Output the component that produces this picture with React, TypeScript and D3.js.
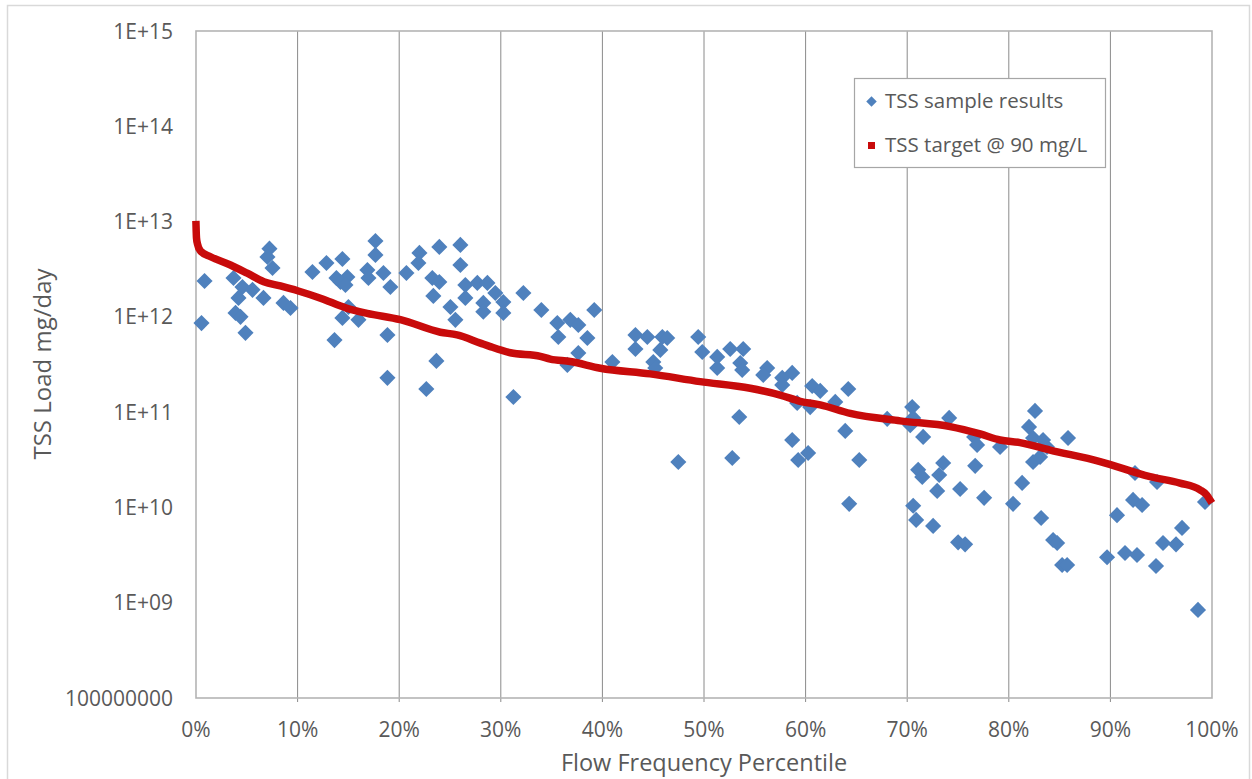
import React, { useEffect, useRef } from "react";
import * as d3 from "d3";

const W = 1252;
const H = 779;

// ---- data ----
const samplePercentile = [
  0.54, 0.84, 3.69, 4.57, 4.18, 5.56, 6.64, 3.89, 4.38, 4.87, 7.23, 7.03, 7.53, 8.61, 9.3,
  11.46, 12.84, 14.41, 17.66, 17.66, 13.82, 14.9, 14.22, 14.71, 16.87, 16.97, 18.45, 19.13, 20.71,
  14.41, 15.99, 15.0, 13.63, 18.84, 18.84,
  21.99, 21.89, 23.95, 23.26, 23.95, 23.36, 25.04, 25.53, 26.02, 26.02, 26.51, 27.69, 28.68, 26.51,
  28.28, 28.28, 29.46, 30.25, 30.25, 32.22, 33.99, 35.56, 36.84, 37.63, 35.66, 38.52, 39.2, 37.63,
  36.55, 23.66, 22.67, 31.24,
  40.98, 43.25, 43.25, 44.42, 45.9, 46.38, 45.7, 45.01, 45.2, 49.43, 49.83, 51.3, 51.3, 52.58,
  53.86, 53.57, 53.76, 56.22, 55.83, 57.7, 58.68, 57.7, 59.17, 60.65, 60.45, 53.47, 58.68, 59.27,
  60.25, 47.47, 52.78,
  61.44, 64.2, 62.92, 63.9, 65.28, 64.29, 68.03, 70.49, 70.3, 70.59, 71.57, 74.13, 76.59, 76.88,
  79.14, 76.69, 71.08, 71.48, 73.54, 73.15, 72.95, 75.21, 77.57, 70.59, 70.88, 72.55, 75.01, 75.7,
  80.42, 81.31,
  81.99, 82.58, 82.39, 83.37, 83.76, 82.39, 83.08, 85.83, 83.18, 84.36, 84.76, 85.25, 85.74, 89.67,
  90.65, 91.44, 92.62, 92.23, 93.12, 92.42, 94.59, 94.49, 95.18, 96.46, 97.05, 98.62, 99.31,
];
const sampleLoad = [
  8.6e11, 2.38e12, 2.56e12, 2.06e12, 1.58e12, 1.92e12, 1.58e12, 1.1e12, 1.0e12, 6.8e11, 5.2e12, 4.25e12, 3.26e12, 1.4e12, 1.24e12,
  2.96e12, 3.68e12, 4.05e12, 6.26e12, 4.47e12, 2.56e12, 2.62e12, 2.32e12, 2.16e12, 3.1e12, 2.56e12, 2.89e12, 2.06e12, 2.89e12,
  9.75e11, 9.3e11, 1.27e12, 5.7e11, 6.46e11, 2.29e11,
  4.69e12, 3.68e12, 5.42e12, 2.56e12, 2.32e12, 1.66e12, 1.27e12, 9.3e11, 5.69e12, 3.5e12, 2.16e12, 2.27e12, 2.27e12, 1.58e12,
  1.4e12, 1.13e12, 1.78e12, 1.43e12, 1.1e12, 1.78e12, 1.18e12, 8.63e11, 9.3e11, 8.22e11, 6.15e11, 6.0e11, 1.18e12, 4.18e11,
  3.13e11, 3.45e11, 1.75e11, 1.44e11,
  3.36e11, 6.46e11, 4.6e11, 6.15e11, 6.15e11, 6.0e11, 4.5e11, 3.36e11, 2.91e11, 6.15e11, 4.28e11, 3.8e11, 2.91e11, 4.6e11,
  4.6e11, 3.28e11, 2.77e11, 2.91e11, 2.46e11, 2.29e11, 2.58e11, 1.93e11, 1.25e11, 1.88e11, 1.13e11, 8.9e10, 5.1e10, 3.15e10,
  3.73e10, 3.0e10, 3.3e10,
  1.67e11, 1.75e11, 1.28e11, 6.35e10, 3.15e10, 1.09e10, 8.5e10, 1.13e11, 7.3e10, 8.7e10, 5.5e10, 8.7e10, 5.5e10, 4.53e10,
  4.31e10, 2.73e10, 2.48e10, 2.09e10, 2.93e10, 2.19e10, 1.49e10, 1.56e10, 1.26e10, 1.04e10, 7.4e9, 6.4e9, 4.3e9, 4.1e9,
  1.09e10, 1.81e10,
  7.0e10, 1.03e11, 5.36e10, 5.1e10, 4.31e10, 3.0e10, 3.39e10, 5.36e10, 7.74e9, 4.55e9, 4.23e9, 2.49e9, 2.49e9, 3.0e9,
  8.3e9, 3.32e9, 3.17e9, 1.2e10, 1.06e10, 2.3e10, 1.85e10, 2.43e9, 4.23e9, 4.1e9, 6.1e9, 8.4e8, 1.14e10,
];

const targetPercentile = [
  0, 0.05, 0.15, 0.44, 1.43, 3.39, 5.04, 6.67, 8.31, 10.0, 12.25, 14.87, 16.84, 20.12, 24.05, 25.7,
  27.99, 28.97, 30.94, 33.89, 34.87, 36.84, 39.8, 44.7, 49.63, 54.55, 57.5, 59.47, 61.44, 64.39,
  69.31, 74.23, 77.18, 79.14, 81.1, 84.06, 88.98, 93.9, 96.85, 98.82, 99.48, 99.8,
];
const targetLoad = [
  9.3e12, 6.7e12, 5.8e12, 4.9e12, 4.27e12, 3.5e12, 2.87e12, 2.34e12, 2.11e12, 1.88e12, 1.57e12, 1.23e12, 1.09e12, 9.35e11, 6.9e11, 6.46e11,
  5.3e11, 4.87e11, 4.2e11, 3.85e11, 3.6e11, 3.4e11, 2.89e11, 2.52e11, 2.09e11, 1.78e11, 1.51e11, 1.3e11, 1.19e11, 9.7e10,
  8.1e10, 7.05e10, 5.9e10, 5.1e10, 4.79e10, 4.0e10, 3.03e10, 2.1e10, 1.8e10, 1.53e10, 1.35e10, 1.2e10,
];

const xTicks = [0, 10, 20, 30, 40, 50, 60, 70, 80, 90, 100];
const yTicks = [1e15, 1e14, 1e13, 1e12, 1e11, 1e10, 1e9, 1e8];
const yTickLabels = ["1E+15", "1E+14", "1E+13", "1E+12", "1E+11", "1E+10", "1E+09", "100000000"];
const seriesNames = ["TSS sample results", "TSS target @ 90 mg/L"];

const FONT = "'Open Sans', sans-serif";
const TEXT = "#595959";
const BLUE = "#4F81BD";
const RED = "#C80B0B";

export default function App() {
  const ref = useRef<SVGSVGElement>(null);

  useEffect(() => {
    const svg = d3.select(ref.current);
    svg.selectAll("*").remove();

    const left = 196, right = 1212, top = 31, bottom = 698;
    const x = d3.scaleLinear().domain([0, 100]).range([left, right]);
    const y = d3.scaleLog().domain([1e8, 1e15]).range([bottom, top]);

    svg.append("rect").attr("width", W).attr("height", H).attr("fill", "#fff");
    svg.append("rect").attr("x", 7.5).attr("y", 5.5).attr("width", W - 10).attr("height", H).attr("fill", "none")
      .attr("stroke", "#d9d9d9").attr("stroke-width", 1.5);

    // gridlines
    svg.append("g").selectAll("line").data(xTicks.filter(t => t > 0 && t < 100)).join("line")
      .attr("x1", d => x(d)).attr("x2", d => x(d)).attr("y1", top).attr("y2", bottom + 4)
      .attr("stroke", "#8a8a8a").attr("stroke-width", 1);

    // plot border
    svg.append("rect").attr("x", left).attr("y", top).attr("width", right - left).attr("height", bottom - top)
      .attr("fill", "none").attr("stroke", "#b4b4b4").attr("stroke-width", 1.6);

    // y tick labels
    svg.append("g").selectAll("text").data(yTicks).join("text")
      .attr("x", 173).attr("y", d => y(d)).attr("dy", "0.36em").attr("text-anchor", "end")
      .attr("font-family", FONT).attr("font-size", 21).attr("fill", TEXT)
      .text((d, i) => yTickLabels[i]);

    // x tick labels
    svg.append("g").selectAll("text").data(xTicks).join("text")
      .attr("x", d => x(d)).attr("y", 737).attr("text-anchor", "middle")
      .attr("font-family", FONT).attr("font-size", 21).attr("fill", TEXT)
      .text(d => `${d}%`);

    // axis titles
    svg.append("text").attr("x", 704).attr("y", 771).attr("text-anchor", "middle")
      .attr("font-family", FONT).attr("font-size", 23.5).attr("fill", TEXT).text("Flow Frequency Percentile");
    svg.append("text").attr("transform", "translate(51,364) rotate(-90)").attr("text-anchor", "middle")
      .attr("font-family", FONT).attr("font-size", 24).attr("fill", TEXT).text("TSS Load mg/day");

    // scatter
    const diamond = d3.symbol().type(d3.symbolSquare).size(130)();
    svg.append("g").selectAll("path").data(samplePercentile.map((p, i) => [p, sampleLoad[i]])).join("path")
      .attr("d", diamond)
      .attr("transform", d => `translate(${x(d[0])},${y(d[1])}) rotate(45)`)
      .attr("fill", BLUE);

    // target line
    const line = d3.line<number>().x((d, i) => x(targetPercentile[i])).y(d => y(d)).curve(d3.curveMonotoneX);
    svg.append("path").attr("d", line(targetLoad))
      .attr("fill", "none").attr("stroke", RED).attr("stroke-width", 7.5)
      .attr("stroke-linecap", "square").attr("stroke-linejoin", "round");

    // legend
    const lg = svg.append("g");
    lg.append("rect").attr("x", 854.5).attr("y", 78.5).attr("width", 251).attr("height", 89)
      .attr("fill", "#fff").attr("stroke", "#a6a6a6").attr("stroke-width", 1.2);
    lg.append("path").attr("d", d3.symbol().type(d3.symbolSquare).size(55)())
      .attr("transform", "translate(871.5,101.5) rotate(45)").attr("fill", BLUE);
    lg.append("rect").attr("x", 868).attr("y", 142).attr("width", 7).attr("height", 7).attr("fill", RED);
    lg.selectAll("text.leg").data(seriesNames).join("text").attr("class", "leg")
      .attr("x", 885).attr("y", (d, i) => 101 + i * 44).attr("dy", "0.36em")
      .attr("font-family", FONT).attr("font-size", 20.5).attr("fill", TEXT).text(d => d);
  }, []);

  return <svg ref={ref} width={W} height={H} style={{ position: "absolute", left: 0, top: 0 }} />;
}
